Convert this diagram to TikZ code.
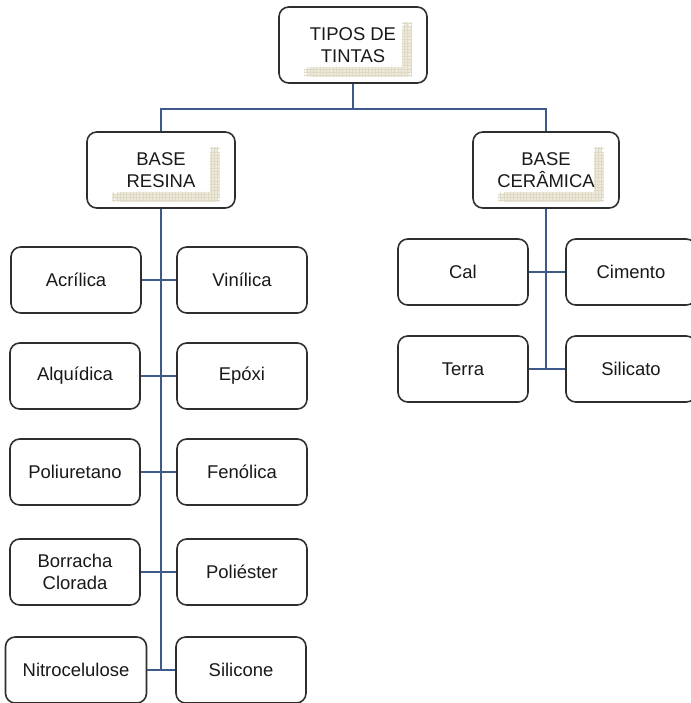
\documentclass[tikz,border=0pt]{standalone}
\usepackage{fontspec}
\setmainfont{Liberation Sans}
\usetikzlibrary{positioning}
\definecolor{Navy}{HTML}{3D5A8A}
\definecolor{Ink}{HTML}{2E2E2E}
\definecolor{Sand}{HTML}{EDEADB}
\definecolor{SandLine}{HTML}{DEDAC6}

\begin{document}
\begin{tikzpicture}[x=0.02cm, y=-0.02cm,
  box/.style={rounded corners=5.5pt, draw=Ink, line width=0.9pt, fill=white, minimum width=2.6cm, minimum height=1.32cm, align=center, text=black!90, font=\fontsize{10.5}{12.6}\selectfont},
  head/.style={box, minimum width=2.96cm, minimum height=1.52cm,
    path picture={
      \fill[Sand] ([xshift=0.5cm,yshift=0.12cm]path picture bounding box.south west) rectangle ([xshift=-0.3cm,yshift=0.32cm]path picture bounding box.south east);
      \fill[Sand] ([xshift=-0.5cm,yshift=0.12cm]path picture bounding box.south east) rectangle ([xshift=-0.3cm,yshift=-0.3cm]path picture bounding box.north east);
      \draw[SandLine, line width=0.2pt, step=0.065cm] ([xshift=0.5cm,yshift=0.12cm]path picture bounding box.south west) grid ([xshift=-0.3cm,yshift=0.32cm]path picture bounding box.south east);
      \draw[SandLine, line width=0.2pt, step=0.065cm] ([xshift=-0.5cm,yshift=0.12cm]path picture bounding box.south east) grid ([xshift=-0.3cm,yshift=-0.3cm]path picture bounding box.north east);
    }},
  link/.style={draw=Navy, line width=1.3pt}]
\useasboundingbox (0,0) rectangle (690,703);

% top levels
\node[head] (tipos) at (353,45) {TIPOS DE\\TINTAS};
\node[head] (resina) at (161,170) {BASE\\RESINA};
\node[head, minimum width=2.92cm] (ceramica) at (546,170) {BASE\\CERÂMICA};

% base resina
\node[box] (acrilica) at (76,280) {Acrílica};
\node[box] (vinilica) at (242,280) {Vinílica};
\node[box] (alquidica) at (75,376) {Alquídica};
\node[box] (epoxi) at (242,376) {Epóxi};
\node[box] (poliuretano) at (75,472) {Poliuretano};
\node[box] (fenolica) at (242,472) {Fenólica};
\node[box] (borracha) at (75,572) {Borracha\\Clorada};
\node[box] (poliester) at (242,572) {Poliéster};
\node[box, minimum width=2.82cm] (nitro) at (76,670) {Nitrocelulose};
\node[box] (silicone) at (241,670) {Silicone};

% base ceramica
\node[box] (cal) at (463,272) {Cal};
\node[box] (cimento) at (631,272) {Cimento};
\node[box] (terra) at (463,369) {Terra};
\node[box] (silicato) at (631,369) {Silicato};

% connectors
\coordinate (split) at (353,109);
\draw[link] (tipos.south) -- (split);
\draw[link] (resina.north) |- (split) -| (ceramica.north);
\draw[link] (resina.south) -- (resina.south |- nitro.east);
\draw[link] (ceramica.south) -- (ceramica.south |- terra.east);
\draw[link] (acrilica) -- (vinilica);
\draw[link] (alquidica) -- (epoxi);
\draw[link] (poliuretano) -- (fenolica);
\draw[link] (borracha) -- (poliester);
\draw[link] (nitro) -- (silicone);
\draw[link] (cal) -- (cimento);
\draw[link] (terra) -- (silicato);
\end{tikzpicture}
\end{document}
